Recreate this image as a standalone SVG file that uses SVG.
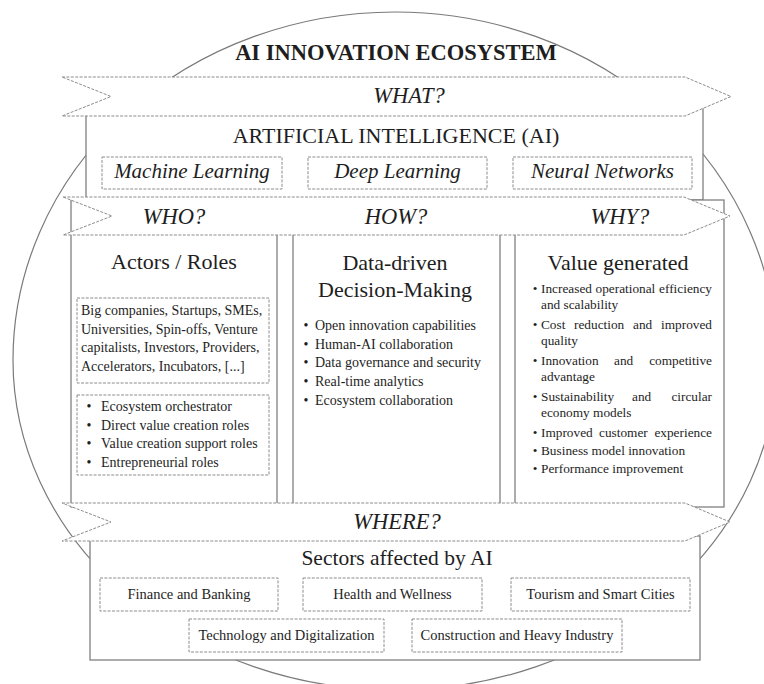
<svg xmlns="http://www.w3.org/2000/svg" width="764" height="684" viewBox="0 0 764 684">
  <style>
    .frame{fill:#fff;stroke:#808080;stroke-width:1.3}
    .dash{fill:#fff;stroke:#8c8c8c;stroke-width:1;stroke-dasharray:3 1.4}
    .banner{fill:#fff;stroke:#8c8c8c;stroke-width:1;stroke-dasharray:3 1.4}
    text{font-family:"Liberation Serif","DejaVu Serif",serif;fill:#1e1e1e}
    .title{font-size:22.5px;font-weight:bold;text-anchor:middle}
    .q{font-size:22.5px;font-style:italic;text-anchor:middle}
    .head{font-size:22px;text-anchor:middle}
    .sub{font-size:21px;font-style:italic;text-anchor:middle}
    .body{font-size:14px}
    .rbody{font-size:13.3px}
    .end{text-anchor:end}
    .dot{text-anchor:middle}
    .sector{font-size:14.5px;text-anchor:middle}
  </style>

  <!-- outer ecosystem outline: taller upper half, flatter lower half -->
  <path id="ecosystem-outline" d="M 13,360 A 382 348 0 0 1 777,360 A 382 330 0 0 1 13,360 Z" fill="none" stroke="#7a7a7a" stroke-width="1.2"/>

  <g id="title">
    <text class="title" x="396" y="60">AI INNOVATION ECOSYSTEM</text>
  </g>

  <!-- WHAT: artificial intelligence -->
  <g id="ai-box">
    <rect class="frame" x="86" y="107" width="617" height="93"/>
    <text class="head" x="396" y="143">ARTIFICIAL INTELLIGENCE (AI)</text>
  </g>
  <g id="machine-learning">
    <rect class="dash" x="102" y="157" width="180" height="32"/>
    <text class="sub" x="192" y="178">Machine Learning</text>
  </g>
  <g id="deep-learning">
    <rect class="dash" x="308" y="157" width="179" height="32"/>
    <text class="sub" x="397.5" y="178">Deep Learning</text>
  </g>
  <g id="neural-networks">
    <rect class="dash" x="513" y="157" width="179" height="32"/>
    <text class="sub" x="602.5" y="178">Neural Networks</text>
  </g>

  <!-- WHO column -->
  <g id="actors-roles">
    <rect class="frame" x="71" y="200" width="206" height="307"/>
    <text class="head" x="174" y="269">Actors / Roles</text>
    <rect class="dash" x="77" y="298" width="192" height="85"/>
    <text class="body" x="81" y="315">Big companies, Startups, SMEs,</text>
    <text class="body" x="81" y="333.5">Universities, Spin-offs, Venture</text>
    <text class="body" x="81" y="352">capitalists, Investors, Providers,</text>
    <text class="body" x="81" y="370.5">Accelerators, Incubators, [...]</text>
    <rect class="dash" x="77" y="395" width="192" height="80"/>
    <text class="body dot" x="89" y="411">•</text>
    <text class="body" x="101" y="411">Ecosystem orchestrator</text>
    <text class="body dot" x="89" y="429.5">•</text>
    <text class="body" x="101" y="429.5">Direct value creation roles</text>
    <text class="body dot" x="89" y="448">•</text>
    <text class="body" x="101" y="448">Value creation support roles</text>
    <text class="body dot" x="89" y="466.5">•</text>
    <text class="body" x="101" y="466.5">Entrepreneurial roles</text>
  </g>

  <!-- HOW column -->
  <g id="data-driven">
    <rect class="frame" x="293" y="200" width="207" height="307"/>
    <text class="head" x="395" y="270">Data-driven</text>
    <text class="head" x="395" y="297">Decision-Making</text>
    <text class="body dot" x="306" y="330">•</text>
    <text class="body" x="315" y="330">Open innovation capabilities</text>
    <text class="body dot" x="306" y="348.7">•</text>
    <text class="body" x="315" y="348.7">Human-AI collaboration</text>
    <text class="body dot" x="306" y="367.4">•</text>
    <text class="body" x="315" y="367.4">Data governance and security</text>
    <text class="body dot" x="306" y="386.1">•</text>
    <text class="body" x="315" y="386.1">Real-time analytics</text>
    <text class="body dot" x="306" y="404.8">•</text>
    <text class="body" x="315" y="404.8">Ecosystem collaboration</text>
  </g>

  <!-- WHY column (justified list) -->
  <g id="value-generated">
    <rect class="frame" x="515" y="200" width="209" height="307"/>
    <text class="head" x="618" y="270">Value generated</text>
    <text class="rbody dot" x="535" y="293">•</text>
    <text class="rbody" x="541" y="293">Increased</text>
    <text class="rbody" x="595.5" y="293">operational</text>
    <text class="rbody end" x="712" y="293">efficiency</text>
    <text class="rbody" x="541" y="309">and scalability</text>

    <text class="rbody dot" x="535" y="329">•</text>
    <text class="rbody" x="541" y="329">Cost</text>
    <text class="rbody" x="574" y="329">reduction</text>
    <text class="rbody" x="633" y="329">and</text>
    <text class="rbody end" x="712" y="329">improved</text>
    <text class="rbody" x="541" y="345">quality</text>

    <text class="rbody dot" x="535" y="365">•</text>
    <text class="rbody" x="541" y="365">Innovation</text>
    <text class="rbody" x="614" y="365">and</text>
    <text class="rbody end" x="712" y="365">competitive</text>
    <text class="rbody" x="541" y="381">advantage</text>

    <text class="rbody dot" x="535" y="401">•</text>
    <text class="rbody" x="541" y="401">Sustainability</text>
    <text class="rbody" x="632" y="401">and</text>
    <text class="rbody end" x="712" y="401">circular</text>
    <text class="rbody" x="541" y="417">economy models</text>

    <text class="rbody dot" x="535" y="437">•</text>
    <text class="rbody" x="541" y="437">Improved</text>
    <text class="rbody" x="599" y="437">customer</text>
    <text class="rbody end" x="712" y="437">experience</text>

    <text class="rbody dot" x="535" y="455">•</text>
    <text class="rbody" x="541" y="455">Business model innovation</text>

    <text class="rbody dot" x="535" y="473">•</text>
    <text class="rbody" x="541" y="473">Performance improvement</text>
  </g>

  <!-- WHERE: sectors -->
  <g id="sectors">
    <rect class="frame" x="90" y="536" width="610" height="124"/>
    <text class="head" x="397" y="565" style="font-size:21.5px">Sectors affected by AI</text>
  </g>
  <g id="finance">
    <rect class="dash" x="100" y="578" width="178" height="33"/>
    <text class="sector" x="189" y="599">Finance and Banking</text>
  </g>
  <g id="health">
    <rect class="dash" x="303" y="578" width="179" height="33"/>
    <text class="sector" x="392.5" y="599">Health and Wellness</text>
  </g>
  <g id="tourism">
    <rect class="dash" x="511" y="578" width="179" height="33"/>
    <text class="sector" x="600.5" y="599">Tourism and Smart Cities</text>
  </g>
  <g id="technology">
    <rect class="dash" x="189" y="619" width="195" height="33"/>
    <text class="sector" x="286.5" y="640">Technology and Digitalization</text>
  </g>
  <g id="construction">
    <rect class="dash" x="412" y="619" width="210" height="33"/>
    <text class="sector" x="517" y="640">Construction and Heavy Industry</text>
  </g>

  <!-- question banners drawn over the frames they head -->
  <g id="banner-what">
    <polygon class="banner" points="62,77 685,77 731,96.5 685,116 62,116 111,96.5"/>
    <text class="q" x="409" y="103">WHAT?</text>
  </g>
  <g id="banner-who-how-why">
    <polygon class="banner" points="63,197 684,197 730,216 684,235 63,235 112,216"/>
    <text class="q" x="174" y="224">WHO?</text>
    <text class="q" x="396" y="224">HOW?</text>
    <text class="q" x="620" y="224">WHY?</text>
  </g>
  <g id="banner-where">
    <polygon class="banner" points="62,503 685,503 730,522 685,541 62,541 111,522"/>
    <text class="q" x="397" y="529">WHERE?</text>
  </g>
</svg>
